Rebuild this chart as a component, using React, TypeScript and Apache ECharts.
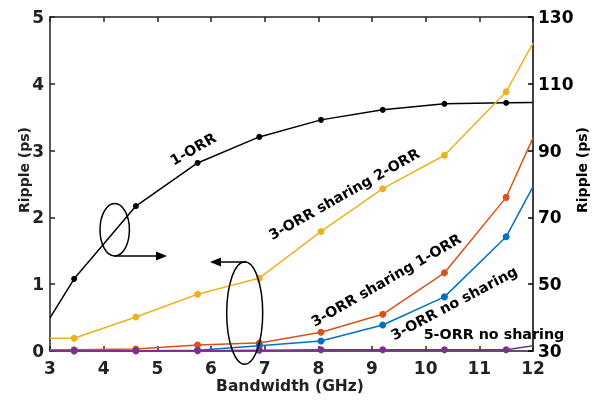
import React, { useEffect, useRef } from "react";
import * as echarts from "echarts";

const bandwidth = [3, 3.45, 4.6, 5.75, 6.9, 8.05, 9.2, 10.35, 11.5, 12];
const orr1 = [39.9, 51.6, 73.4, 86.3, 94.1, 99.2, 102.2, 104.0, 104.3, 104.4];
const share2 = [0.19, 0.19, 0.51, 0.85, 1.09, 1.79, 2.43, 2.93, 3.88, 4.61];
const share1 = [0.02, 0.02, 0.03, 0.09, 0.12, 0.28, 0.55, 1.17, 2.3, 3.19];
const noShare3 = [0.0, 0.0, 0.005, 0.01, 0.08, 0.15, 0.39, 0.81, 1.71, 2.46];
const noShare5 = [0.005, 0.005, 0.005, 0.005, 0.01, 0.02, 0.02, 0.02, 0.02, 0.08];

const xTicks = [3, 4, 5, 6, 7, 8, 9, 10, 11, 12];
const leftTicks = [0, 1, 2, 3, 4, 5];
const rightTicks = [30, 50, 70, 90, 110, 130];

const FONT = "DejaVu Sans";

export default function App() {
  const ref = useRef<HTMLDivElement>(null);
  useEffect(() => {
    const chart = echarts.init(ref.current!, null, { renderer: "svg" });
    const last = bandwidth.length - 1;
    const pair = (ys: number[]) => bandwidth.map((x, i) => [x, ys[i]]);
    const sym = (size: number) => (_v: any, p: any) =>
      p.dataIndex === 0 || p.dataIndex === last ? 0 : size;
    const line = (name: string, ys: number[], color: string, yAxisIndex: number, size: number) => ({
      name,
      type: "line",
      yAxisIndex,
      data: pair(ys),
      symbol: "circle",
      symbolSize: sym(size),
      showSymbol: true,
      lineStyle: { color, width: 1.5 },
      itemStyle: { color },
      silent: true,
    });
    const tickLabel = { fontFamily: FONT, fontWeight: "bold", fontSize: 17, color: "#222" };
    const annot = (text: string, x: number, y: number, deg: number) => ({
      type: "text",
      x,
      y,
      rotation: (deg * Math.PI) / 180,
      style: {
        text,
        fontFamily: FONT,
        fontWeight: "bold",
        fontSize: 14.3,
        fill: "#000",
        align: "center",
        verticalAlign: "middle",
      },
      z: 100,
    });
    const axisStyle = { color: "#222", width: 1.5 };
    chart.setOption({
      animation: false,
      grid: { left: 50, top: 17, width: 483, height: 334, containLabel: false },
      xAxis: [
        {
          type: "value",
          min: xTicks[0],
          max: xTicks[xTicks.length - 1],
          interval: 1,
          axisLine: { show: true, lineStyle: axisStyle },
          axisTick: { show: true, inside: true, length: 5, lineStyle: axisStyle },
          splitLine: { show: false },
          axisLabel: { ...tickLabel, margin: 8 },
        },
        {
          type: "value",
          position: "top",
          min: xTicks[0],
          max: xTicks[xTicks.length - 1],
          interval: 1,
          axisLine: { show: true, lineStyle: axisStyle },
          axisTick: { show: true, inside: true, length: 5, lineStyle: axisStyle },
          splitLine: { show: false },
          axisLabel: { show: false },
        },
      ],
      yAxis: [
        {
          type: "value",
          position: "left",
          min: leftTicks[0],
          max: leftTicks[leftTicks.length - 1],
          interval: 1,
          axisLine: { show: true, lineStyle: axisStyle },
          axisTick: { show: true, inside: true, length: 5, lineStyle: axisStyle },
          splitLine: { show: false },
          axisLabel: { ...tickLabel, margin: 6 },
        },
        {
          type: "value",
          position: "right",
          min: rightTicks[0],
          max: rightTicks[rightTicks.length - 1],
          interval: 20,
          axisLine: { show: true, lineStyle: { color: "#000", width: 1.5 } },
          axisTick: { show: true, inside: true, length: 5, lineStyle: { color: "#000", width: 1.5 } },
          splitLine: { show: false },
          axisLabel: { ...tickLabel, color: "#000", margin: 5 },
        },
      ],
      series: [
        line("1-ORR", orr1, "#000000", 1, 6),
        line("3-ORR sharing 2-ORR", share2, "#EDB120", 0, 7),
        line("3-ORR sharing 1-ORR", share1, "#D95319", 0, 7),
        line("3-ORR no sharing", noShare3, "#0072BD", 0, 7),
        line("5-ORR no sharing", noShare5, "#7E2F8E", 0, 7),
      ],
      graphic: [
        annot("1-ORR", 193, 149, 30),
        annot("3-ORR sharing 2-ORR", 344, 194, 29.5),
        annot("3-ORR sharing 1-ORR", 386, 280, 30),
        annot("3-ORR no sharing", 454, 303, 28),
        annot("5-ORR no sharing", 494, 333.5, 0),
        {
          type: "text",
          x: 290,
          y: 386,
          style: {
            text: "Bandwidth (GHz)",
            fontFamily: FONT,
            fontWeight: "bold",
            fontSize: 15.5,
            fill: "#222",
            align: "center",
            verticalAlign: "middle",
          },
        },
        {
          type: "text",
          x: 24,
          y: 170,
          rotation: Math.PI / 2,
          style: {
            text: "Ripple (ps)",
            fontFamily: FONT,
            fontWeight: "bold",
            fontSize: 14,
            fill: "#222",
            align: "center",
            verticalAlign: "middle",
          },
        },
        {
          type: "text",
          x: 582,
          y: 170,
          rotation: Math.PI / 2,
          style: {
            text: "Ripple (ps)",
            fontFamily: FONT,
            fontWeight: "bold",
            fontSize: 14,
            fill: "#000",
            align: "center",
            verticalAlign: "middle",
          },
        },
        {
          type: "ellipse",
          shape: { cx: 114.7, cy: 229.7, rx: 14.7, ry: 26.3 },
          style: { fill: "none", stroke: "#000", lineWidth: 1.5 },
          z: 100,
        },
        {
          type: "line",
          shape: { x1: 114, y1: 256, x2: 158, y2: 256 },
          style: { stroke: "#000", lineWidth: 1.5 },
          z: 100,
        },
        {
          type: "polygon",
          shape: { points: [[156, 251.5], [167, 256], [156, 260.5]] },
          style: { fill: "#000" },
          z: 100,
        },
        {
          type: "ellipse",
          shape: { cx: 244.7, cy: 313, rx: 18, ry: 51.3 },
          style: { fill: "none", stroke: "#000", lineWidth: 1.5 },
          z: 100,
        },
        {
          type: "line",
          shape: { x1: 246, y1: 262, x2: 219, y2: 262 },
          style: { stroke: "#000", lineWidth: 1.5 },
          z: 100,
        },
        {
          type: "polygon",
          shape: { points: [[221, 257.5], [210, 262], [221, 266.5]] },
          style: { fill: "#000" },
          z: 100,
        },
      ],
    });
    return () => chart.dispose();
  }, []);
  return (
    <div
      ref={ref}
      style={{ position: "fixed", left: 0, top: 0, width: 597, height: 400 }}
    />
  );
}
